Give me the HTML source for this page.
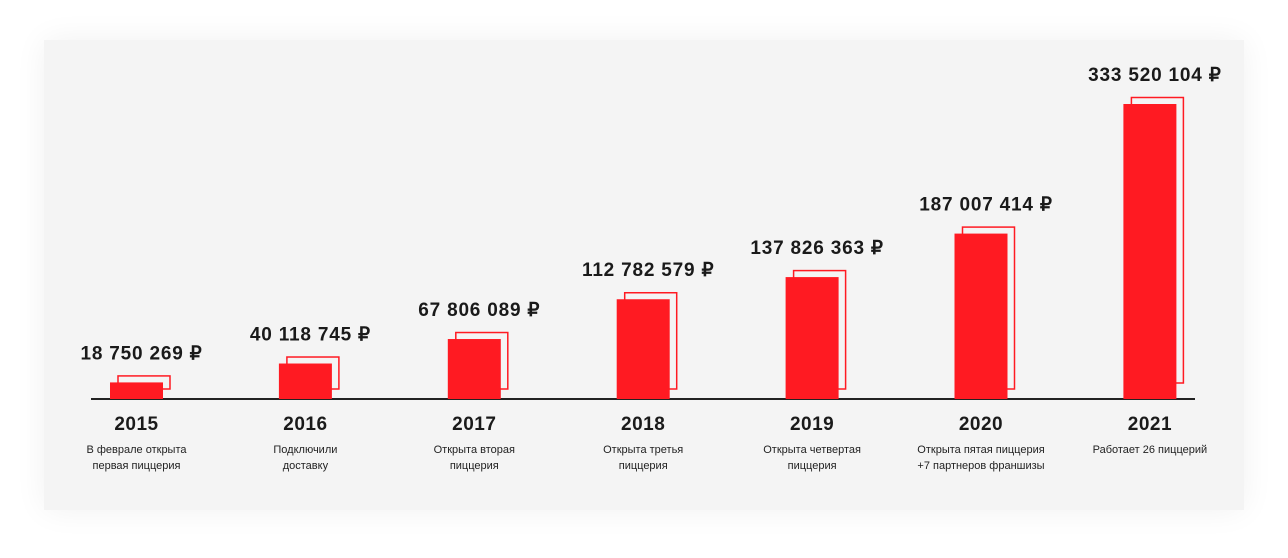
<!DOCTYPE html>
<html><head><meta charset="utf-8"><style>
body{margin:0;width:1288px;height:558px;background:#fff;font-family:"Liberation Sans",sans-serif;overflow:hidden}
#card{position:absolute;left:44px;top:40px;width:1200px;height:470px;background:#f4f4f4;box-shadow:0 0 30px rgba(0,0,0,0.06)}
svg{position:absolute;left:0;top:0}
</style></head><body>
<div id="card"></div>
<svg id="chart" width="1288" height="558"></svg>
<script>
const years=["2015","2016","2017","2018","2019","2020","2021"];
const values=[18750269,40118745,67806089,112782579,137826363,187007414,333520104];
const labels=["18 750 269 ₽","40 118 745 ₽","67 806 089 ₽","112 782 579 ₽","137 826 363 ₽","187 007 414 ₽","333 520 104 ₽"];
const notes1=["В феврале открыта","Подключили","Открыта вторая","Открыта третья","Открыта четвертая","Открыта пятая пиццерия","Работает 26 пиццерий"];
const notes2=["первая пиццерия","доставку","пиццерия","пиццерия","пиццерия","+7 партнеров франшизы",""];
const NS="http://www.w3.org/2000/svg";
const svg=document.getElementById('chart');
const base=399, perVal=295/333520104;
function x(i){return 136.5+i*168.9;}
function y(v){return base-v*perVal;}
function mk(t,a,txt){const e=document.createElementNS(NS,t);for(const k in a)e.setAttribute(k,a[k]);if(txt!==undefined)e.textContent=txt;svg.appendChild(e);return e;}
const ax=mk('line',{x1:91,x2:1195,y1:base,y2:base,stroke:'#222','stroke-width':2});


values.forEach((v,i)=>{
  const cx=x(i),top=y(v);
  const ob=(i===6)?base-16:base-10;
  const o=mk('rect',{x:cx-18.5,y:top-6.5,width:52,height:ob-(top-6.5),fill:'none',stroke:'#ff1a22','stroke-width':1.5});
  
  
  const b=mk('rect',{x:cx-26.5,y:top,width:53,height:base-top,fill:'#ff1a22'});
  
  
  const l=mk('text',{x:cx+5,y:top-23,'text-anchor':'middle','font-size':19,'font-weight':'bold','letter-spacing':'0.8',fill:'#1a1a1a'},labels[i]);
  
  
  const t=mk('text',{x:cx,y:430,'text-anchor':'middle','font-size':19,'font-weight':'bold','letter-spacing':'0.5',fill:'#1a1a1a'},years[i]);
  
  
  const n1=mk('text',{x:cx,y:453,'text-anchor':'middle','font-size':11,fill:'#222'},notes1[i]);
  
  
  const n2=mk('text',{x:cx,y:469,'text-anchor':'middle','font-size':11,fill:'#222'},notes2[i]);
  
  
});
</script>
</body></html>
